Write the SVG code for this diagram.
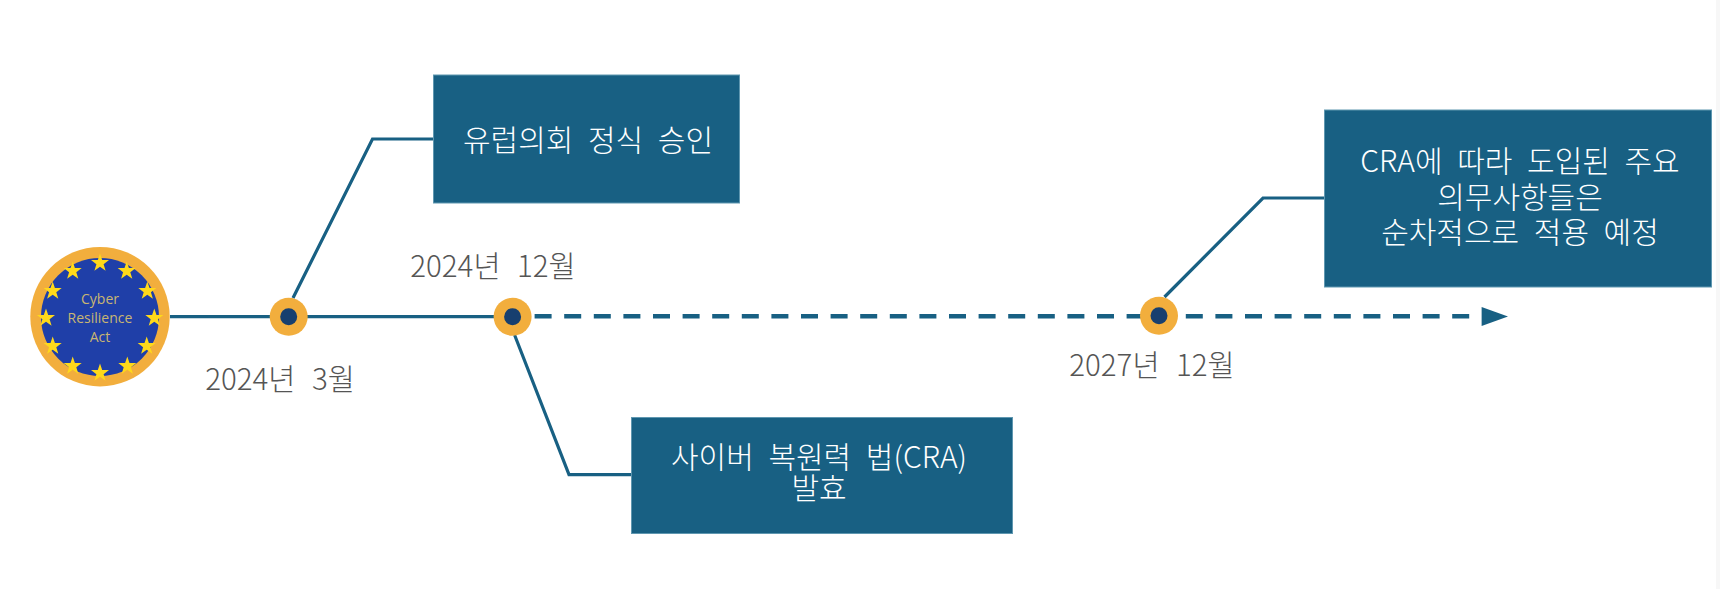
<svg xmlns="http://www.w3.org/2000/svg" xmlns:xlink="http://www.w3.org/1999/xlink" width="1720" height="589" viewBox="0 0 1720 589">
<style>
.box{fill:#186083;stroke:#5f97b0;stroke-width:1}
.t{font-family:"Noto Sans CJK KR","Noto Sans",sans-serif;font-weight:300;text-anchor:middle}
.w{fill:#fff;font-size:30px;word-spacing:8px}
.d{fill:#555;font-size:29.5px;word-spacing:10px}
.conn{fill:none;stroke:#186083;stroke-width:3.2}
.ring{fill:#f2ae3d}
.core{fill:#173f6f}
.star{fill:#ffd91a}
.lg{font-family:"Open Sans","Noto Sans",sans-serif;font-size:14px;font-weight:500;fill:#c9b672;text-anchor:middle}
</style>
<defs>
<polygon id="s" points="0,-9.5 2.2,-3 9,-3 3.6,1.2 5.6,7.8 0,3.8 -5.6,7.8 -3.6,1.2 -9,-3 -2.2,-3"/>
</defs>
<rect width="1720" height="589" fill="#fff"/>
<rect x="1716" y="0" width="4" height="589" fill="#f7f7f7"/>
<g id="connectors">
<path class="conn" d="M170 316.7H500"/>
<path class="conn" d="M293 298L372.5 139H433"/>
<path class="conn" d="M514.6 335L569 474.7H631"/>
<path class="conn" d="M1164.5 297L1263 198H1325"/>
<path class="conn" d="M534.6 316.3H1470" style="stroke-width:4.5" stroke-dasharray="17 12.6"/>
<polygon points="1481.6,307 1508,316.6 1481.6,326" fill="#186083"/>
</g>
<g id="logo">
<circle cx="100" cy="316.7" r="69.7" class="ring"/>
<circle cx="100" cy="317" r="59" fill="#1f3fa8"/>
<g class="star">
<use xlink:href="#s" href="#s" x="100" y="263"/>
<use xlink:href="#s" href="#s" x="126.7" y="271"/>
<use xlink:href="#s" href="#s" x="147.3" y="291"/>
<use xlink:href="#s" href="#s" x="154.3" y="318"/>
<use xlink:href="#s" href="#s" x="146.7" y="346"/>
<use xlink:href="#s" href="#s" x="127.3" y="366"/>
<use xlink:href="#s" href="#s" x="100" y="373"/>
<use xlink:href="#s" href="#s" x="72.7" y="366"/>
<use xlink:href="#s" href="#s" x="52.7" y="346"/>
<use xlink:href="#s" href="#s" x="46" y="318"/>
<use xlink:href="#s" href="#s" x="52.7" y="291"/>
<use xlink:href="#s" href="#s" x="72.7" y="271"/>
</g>
<text class="lg" x="100"><tspan x="100" y="304">Cyber</tspan><tspan x="100" y="323">Resilience</tspan><tspan x="100" y="342">Act</tspan></text>
</g>
<g id="node-mar2024">
<circle cx="288.7" cy="316.7" r="19" class="ring"/>
<circle cx="288.7" cy="316.7" r="8.5" class="core"/>
<text class="t d" x="280" y="390">2024년 3월</text>
</g>
<g id="node-dec2024">
<circle cx="512.6" cy="316.7" r="19" class="ring"/>
<circle cx="512.6" cy="316.7" r="8.5" class="core"/>
<text class="t d" x="493" y="277">2024년 12월</text>
</g>
<g id="node-dec2027">
<circle cx="1159" cy="315.7" r="19" class="ring"/>
<circle cx="1159" cy="315.7" r="8.5" class="core"/>
<text class="t d" x="1152" y="376">2027년 12월</text>
</g>
<g id="box-approval">
<rect class="box" x="433.5" y="75" width="306" height="128"/>
<text class="t w" x="588" y="151">유럽의회 정식 승인</text>
</g>
<g id="box-force">
<rect class="box" x="631.5" y="417.5" width="381" height="116"/>
<text class="t w"><tspan x="819" y="468">사이버 복원력 법(CRA)</tspan><tspan x="819" y="499">발효</tspan></text>
</g>
<g id="box-obligations">
<rect class="box" x="1324.5" y="110" width="387" height="177"/>
<text class="t w"><tspan x="1520" y="172">CRA에 따라 도입된 주요</tspan><tspan x="1520" y="208">의무사항들은</tspan><tspan x="1520" y="243">순차적으로 적용 예정</tspan></text>
</g>
</svg>
